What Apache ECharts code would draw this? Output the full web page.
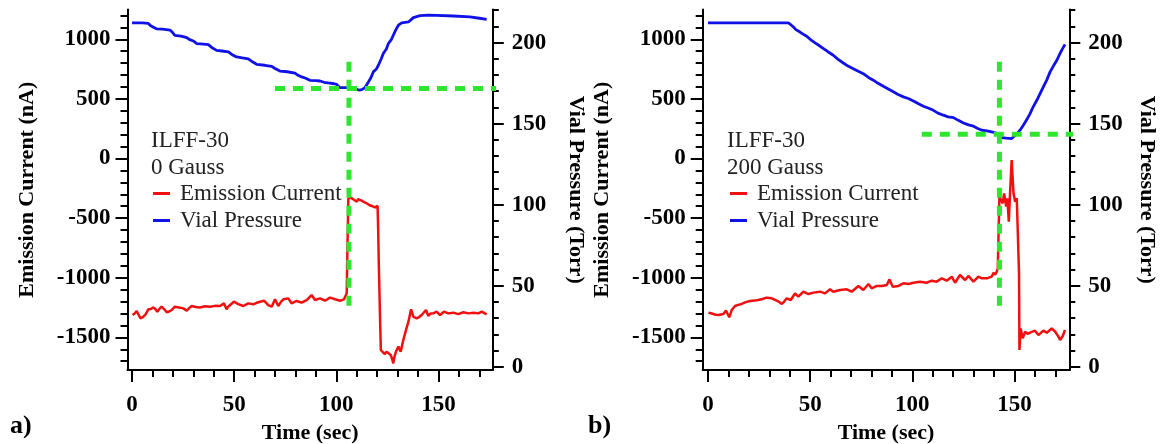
<!DOCTYPE html>
<html><head><meta charset="utf-8">
<script src="https://cdn.jsdelivr.net/npm/echarts@6/dist/echarts.min.js"></script>
<style>html,body{margin:0;padding:0;background:#fff}#c{width:1160px;height:444px}</style>
</head><body><div id="c"></div>
<script>
// ---------- Panel a) 0 Gauss ----------
const aCurT = [0.3,1.3,2.3,3.2,4.2,5.3,6.4,7.2,8,9.2,10.4,11.4,12.4,13.5,14.5,15.8,17,18.2,19.4,20.2,21,23,25.1,26,26.8,28,29.2,31.2,33.3,35.7,38.2,40.6,43.1,45,46.3,47,48,49.9,52,54.5,56.9,59.4,61,62.7,64.6,66.7,68.4,70,71.6,73,74.1,76.5,78.1,80.6,83,85.5,87.9,89.6,92,94.5,96.9,99.4,101.8,103.8,104.6,105.1,105.5,105.9,106.4,107.3,108.3,109.2,110,110.7,111.3,112.4,113.6,114.9,116.1,117.3,118.9,120.2,120.5,120.8,121.1,121.5,121.8,122.8,123.8,124.6,125.5,126.6,127.3,127.9,128.5,129.2,130.4,131.5,132.8,134.1,135.3,136.6,137.7,139.3,140.5,141.8,143.9,145,146.2,147.5,149.1,150.8,152.7,154.8,157.3,159.7,162.2,164.6,167.1,169.5,171.2,173.6];
const aCurV = [-1313,-1300,-1279,-1310,-1341,-1330,-1313,-1290,-1265,-1262,-1249,-1262,-1285,-1260,-1243,-1265,-1290,-1283,-1271,-1255,-1243,-1250,-1257,-1266,-1276,-1255,-1237,-1245,-1249,-1240,-1243,-1236,-1237,-1215,-1265,-1245,-1229,-1201,-1221,-1237,-1215,-1223,-1210,-1201,-1193,-1229,-1243,-1181,-1237,-1200,-1181,-1173,-1215,-1195,-1209,-1187,-1145,-1187,-1173,-1193,-1167,-1181,-1193,-1181,-1170,-1131,-700,-334,-326,-330,-342,-355,-362,-340,-326,-354,-365,-376,-390,-398,-410,-398,-600,-880,-870,-1400,-1606,-1625,-1640,-1620,-1620,-1648,-1680,-1718,-1660,-1620,-1578,-1620,-1522,-1439,-1369,-1265,-1327,-1341,-1330,-1313,-1271,-1319,-1300,-1299,-1285,-1313,-1285,-1299,-1293,-1305,-1290,-1299,-1293,-1299,-1285,-1307];
const aPresT = [0,5,8,9,10.5,12,15,18.6,20,21,24,26.8,28,30,31.7,35,37.4,39,41.4,44,47.2,49,51.2,54,56.9,58.5,61,65,68.4,70,72.4,76,79.8,81,83.1,85,87.1,90,92,94,96.1,99,100.2,101,101.8,105,108.3,110,111.3,112.5,114,115.7,117,118.1,119.5,120.6,122,123,124.5,125.5,127,127.9,129,130.4,132,135.3,136.5,137.7,141,145,149.1,157.3,165.4,170,173.6];
const aPresV = [212.1,212.1,211.8,210.5,209.5,208.5,208.3,207.7,206,204.4,204,203.1,202,201,199.4,199,198.7,197,195.2,194.8,194.2,192.5,191.1,190.5,189.9,188.5,186.6,186,185.3,184,182.4,182,181.2,180,178.8,178,176.7,176.5,176.3,175.5,175.1,174.6,174.2,173.4,172.2,172.2,172.2,171.2,170.6,171,172.2,175.7,178.5,181.9,183.5,186,190,193.2,196,199.4,202,204.5,207.5,210.7,212.1,212.7,214,215.4,216.6,216.9,216.8,216.4,215.8,215,214.3];
const aGuideVT = [106.2,106.2], aGuideVV = [812,-1300];
const aGuideHT = [70,179.3],   aGuideHV = [171.6,171.6];

// ---------- Panel b) 200 Gauss ----------
const bCurT = [0.2,1.4,2.6,3.8,5.1,6.3,7.5,8.8,9.5,10.4,11.6,13.2,14.8,16.5,18.5,20.6,22.6,24.6,26.6,28.7,31.2,33.6,35,36.1,37.3,38.5,40.5,42.6,44.2,46.7,49.1,51.6,54.8,57.3,59.7,61.3,64.6,67.9,70.3,73.6,76,78.5,80.1,82.6,85,87.5,88.8,90.4,93.2,95.6,98.1,100.5,103.8,107,109.5,111.9,114.4,116.8,119.3,120.9,123.3,125.8,127.4,129.9,132.3,134,136.4,138.8,139.7,140.5,141.3,141.8,142.1,142.6,143.3,144.2,144.9,145.9,146.5,147.2,147.8,148.6,149.1,149.5,150.3,151.1,151.7,152.2,152.4,153,154,155.2,156.4,157.6,160,161.7,164.1,165.8,168.2,169.9,171.5,172.3,173.6,174.7];
const bCurV = [-1293,-1298,-1304,-1310,-1313,-1308,-1304,-1276,-1300,-1332,-1271,-1237,-1228,-1220,-1205,-1195,-1192,-1187,-1178,-1167,-1173,-1193,-1205,-1220,-1200,-1173,-1187,-1131,-1159,-1117,-1137,-1125,-1117,-1131,-1097,-1117,-1103,-1097,-1117,-1069,-1103,-1053,-1089,-1069,-1069,-1061,-1014,-1075,-1069,-1047,-1053,-1042,-1033,-1042,-1025,-1033,-1005,-1025,-991,-1042,-977,-1019,-985,-1033,-991,-1005,-1005,-991,-958,-975,-949,-921,-907,-320,-314,-376,-292,-404,-334,-530,-292,-12,-12,-292,-362,-334,-348,-963,-1606,-1425,-1508,-1453,-1470,-1461,-1444,-1481,-1444,-1461,-1425,-1453,-1494,-1522,-1489,-1439];
const bPresT = [0,39.3,40.5,41.8,43,45,46.5,48.3,50,52.4,54,56.5,58.5,61.3,63.5,66.2,68.5,71.1,73.5,76,78.5,80.9,83,85.8,88,90.7,93,95.6,98,100.5,103,105.4,108,110.3,112.5,115.2,117.5,120.1,122.5,125,127.5,129.9,132,134,136.5,138.8,141,142.6,143.7,146,148.6,149.8,151,151.9,153,154.3,156,157.6,159,160.9,162.5,164.1,165.8,167.4,169,170.7,172,173.1,174.7];
const bPresV = [212.1,212.1,211,209.6,208,206.5,205.2,203.9,202,199.8,198.5,196.3,194.5,192.2,189.8,187.4,185.5,183.9,182.3,180.8,178.5,176.8,175,173,171.5,169.6,168,166.5,165.5,164,162.2,160.7,159.5,158.2,156.5,155.2,154.2,153.7,152,150.4,149.2,148.4,147,145.9,145.5,144.9,144.2,143.6,141.4,141,140.8,142.2,143.5,144.3,146.5,149,152.5,156.2,160,164.4,168.5,172.7,177,181.9,185.5,189.1,192.5,195.3,198.9];
const bGuideVT = [142.6,142.6], bGuideVV = [812,-1300];
const bGuideHT = [104.6,178.8], bGuideHV = [143.5,143.5];

// ---------- ticks ----------
const xMajorTicks = [0,50,100,150];
const xMinorTicks = [10,20,30,40,60,70,80,90,110,120,130,140,160,170];
const yLeftMajorTicks = [-1500,-1000,-500,0,500,1000];
const yLeftMinorTicks = [-1700,-1600,-1400,-1300,-1200,-1100,-900,-800,-700,-600,-400,-300,-200,-100,100,200,300,400,600,700,800,900,1100,1200];
const yRightMajorTicks = [0,50,100,150,200];
const yRightMinorTicks = [10,20,30,40,60,70,80,90,110,120,130,140,160,170,180,190,210,220];

const seriesNames = ['Emission Current','Vial Pressure'];
const panelLabels = ['a)','b)'];
const sampleNames = ['ILFF-30','ILFF-30'];
const fieldNames = ['0 Gauss','200 Gauss'];

const FONT = 'Liberation Serif';
const RED = '#f01010', BLUE = '#1010e8', GREEN = '#2ee62e';
const zip = (t, v) => t.map((x, i) => [x, v[i]]);
const plain = v => String(v);

const panels = [
  {left:127.5, right:667.2, xMin:-2.2, xMax:176.6, rGap:72, cur:[aCurT,aCurV], pres:[aPresT,aPresV], gv:[aGuideVT,aGuideVV], gh:[aGuideHT,aGuideHV]},
  {left:702.7, right:90.7, xMin:-2.6, xMax:176.8, rGap:66, cur:[bCurT,bCurV], pres:[bPresT,bPresV], gv:[bGuideVT,bGuideVV], gh:[bGuideHT,bGuideHV]}
];
const yLMin = -1774, yLMax = 1250, yRMin = -2.0, yRMax = 220.4;

const labelStyle = {fontFamily: FONT, fontWeight: 'bold', fontSize: 23, color: '#000'};
const titleStyle = {fontFamily: FONT, fontWeight: 'bold', fontSize: 22, color: '#000'};
const lineStyleAxis = {color: '#000', width: 2};

const grid = [], xAxis = [], yAxis = [], series = [];
panels.forEach((p, i) => {
  grid.push({left: p.left, right: p.right, top: 9.5, bottom: 74, containLabel: false, outerBoundsMode: 'none'});
  const xi = xAxis.length;
  xAxis.push({type:'value', gridIndex:i, min:p.xMin, max:p.xMax, position:'bottom',
    axisLine:{show:true, onZero:false, lineStyle:lineStyleAxis},
    axisTick:{show:true, inside:false, length:12, customValues:xMajorTicks, lineStyle:{color:'#000', width:2}},
    axisLabel:{show:true, customValues:xMajorTicks, margin:24, formatter:plain, ...labelStyle},
    splitLine:{show:false},
    name:'Time (sec)', nameLocation:'middle', nameGap:52, nameTextStyle:{...titleStyle}});
  xAxis.push({type:'value', gridIndex:i, min:p.xMin, max:p.xMax, position:'bottom',
    axisLine:{show:false, onZero:false},
    axisTick:{show:true, inside:false, length:7, customValues:xMinorTicks, lineStyle:{color:'#000', width:2}},
    axisLabel:{show:false}, splitLine:{show:false}});
  const yi = yAxis.length;
  yAxis.push({type:'value', gridIndex:i, min:yLMin, max:yLMax, position:'left',
    axisLine:{show:true, onZero:false, lineStyle:lineStyleAxis},
    axisTick:{show:true, inside:false, length:12, customValues:yLeftMajorTicks, lineStyle:{color:'#000', width:2}},
    axisLabel:{show:true, customValues:yLeftMajorTicks, margin:17, formatter:plain, ...labelStyle},
    splitLine:{show:false},
    name:'Emission Current (nA)', nameLocation:'middle', nameRotate:90, nameGap:89, nameTextStyle:{...titleStyle}});
  yAxis.push({type:'value', gridIndex:i, min:yLMin, max:yLMax, position:'left',
    axisLine:{show:false, onZero:false},
    axisTick:{show:true, inside:false, length:7, customValues:yLeftMinorTicks, lineStyle:{color:'#000', width:2}},
    axisLabel:{show:false}, splitLine:{show:false}});
  yAxis.push({type:'value', gridIndex:i, min:yRMin, max:yRMax, position:'right',
    axisLine:{show:true, onZero:false, lineStyle:lineStyleAxis},
    axisTick:{show:true, inside:false, length:11, customValues:yRightMajorTicks, lineStyle:{color:'#000', width:2}},
    axisLabel:{show:true, customValues:yRightMajorTicks, margin:19, formatter:plain, ...labelStyle},
    splitLine:{show:false},
    name:'Vial Pressure (Torr)', nameLocation:'middle', nameRotate:-90, nameGap:p.rGap, nameTextStyle:{...titleStyle}});
  yAxis.push({type:'value', gridIndex:i, min:yRMin, max:yRMax, position:'right',
    axisLine:{show:false, onZero:false},
    axisTick:{show:true, inside:false, length:6, customValues:yRightMinorTicks, lineStyle:{color:'#000', width:2}},
    axisLabel:{show:false}, splitLine:{show:false}});

  series.push({type:'line', name:seriesNames[1], xAxisIndex:xi, yAxisIndex:yi+2, data:zip(p.pres[0], p.pres[1]),
    showSymbol:false, symbol:'none', lineStyle:{color:BLUE, width:2.8}, itemStyle:{color:BLUE}, silent:true});
  series.push({type:'line', name:seriesNames[0], xAxisIndex:xi, yAxisIndex:yi, data:zip(p.cur[0], p.cur[1]),
    showSymbol:false, symbol:'none', lineStyle:{color:RED, width:2.5}, itemStyle:{color:RED}, silent:true});
  series.push({type:'line', xAxisIndex:xi, yAxisIndex:yi, data:zip(p.gv[0], p.gv[1]), clip:false,
    showSymbol:false, symbol:'none', lineStyle:{color:GREEN, width:5, type:[10,8]}, silent:true, z:5});
  series.push({type:'line', xAxisIndex:xi, yAxisIndex:yi+2, data:zip(p.gh[0], p.gh[1]), clip:false,
    showSymbol:false, symbol:'none', lineStyle:{color:GREEN, width:5, type:[10,8]}, silent:true, z:5});
});

const legendBase = {orient:'vertical', icon:'rect', itemWidth:17, itemHeight:3, itemGap:4, padding:0,
  data:seriesNames, selectedMode:false,
  textStyle:{fontFamily:FONT, fontSize:23, lineHeight:23, color:'#222', padding:[0,0,0,5]}};
const legend = [
  {...legendBase, left:153, top:182},
  {...legendBase, left:730, top:182}
];

const txt = (x, y, s, extra) => ({type:'text', left:x, top:y, silent:true,
  style:{text:s, fontFamily:FONT, fontSize:23, fill:'#222', ...(extra||{})}});
const graphic = [
  txt(151, 129, sampleNames[0]), txt(151, 156, fieldNames[0]),
  txt(727, 129, sampleNames[1]), txt(727, 156, fieldNames[1]),
  txt(10, 413, panelLabels[0], {fontWeight:'bold', fontSize:26, fill:'#000'}),
  txt(588, 413, panelLabels[1], {fontWeight:'bold', fontSize:26, fill:'#000'})
];

const chart = echarts.init(document.getElementById('c'), null, {renderer:'canvas'});
chart.setOption({backgroundColor:'#fff', animation:false, grid, xAxis, yAxis, series, legend, graphic});
</script></body></html>
